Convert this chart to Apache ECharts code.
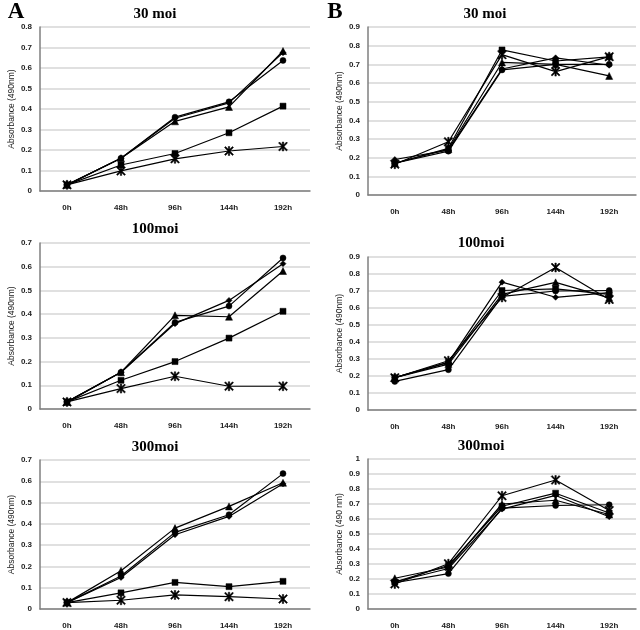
<!DOCTYPE html>
<html>
<head>
<meta charset="utf-8">
<script src="https://cdn.jsdelivr.net/npm/echarts@6/dist/echarts.min.js"></script>
<style>
  html, body { margin: 0; padding: 0; background: #fff; }
  #main { width: 640px; height: 630px; }
</style>
</head>
<body>
<div id="main"></div>
<script>
// time points on the x axis
const hours = ['0h', '48h', '96h', '144h', '192h'];

// marker order for every panel: diamond, circle, triangle, square, asterisk
const a30 = [
  [0.03, 0.16, 0.355, 0.43, 0.675],
  [0.03, 0.16, 0.36, 0.435, 0.637],
  [0.03, 0.16, 0.34, 0.41, 0.683],
  [0.03, 0.127, 0.183, 0.284, 0.414],
  [0.03, 0.098, 0.157, 0.195, 0.217]
];
const a100 = [
  [0.03, 0.155, 0.36, 0.458, 0.613],
  [0.03, 0.155, 0.365, 0.434, 0.637],
  [0.03, 0.155, 0.395, 0.389, 0.582],
  [0.03, 0.121, 0.2, 0.299, 0.412],
  [0.03, 0.086, 0.138, 0.096, 0.096]
];
const a300 = [
  [0.03, 0.148, 0.349, 0.435, 0.588],
  [0.03, 0.155, 0.36, 0.443, 0.636],
  [0.03, 0.18, 0.38, 0.482, 0.593],
  [0.03, 0.076, 0.125, 0.105, 0.13],
  [0.03, 0.041, 0.066, 0.058, 0.047]
];
const b30 = [
  [0.19, 0.24, 0.675, 0.735, 0.695],
  [0.17, 0.235, 0.67, 0.70, 0.70],
  [0.17, 0.245, 0.71, 0.70, 0.638],
  [0.17, 0.25, 0.777, 0.718, 0.74],
  [0.165, 0.285, 0.752, 0.661, 0.741]
];
const b100 = [
  [0.19, 0.28, 0.752, 0.663, 0.69],
  [0.168, 0.237, 0.668, 0.70, 0.703],
  [0.19, 0.27, 0.68, 0.751, 0.66],
  [0.19, 0.28, 0.703, 0.713, 0.68],
  [0.19, 0.29, 0.662, 0.838, 0.65]
];
const b300 = [
  [0.18, 0.27, 0.666, 0.757, 0.615],
  [0.175, 0.236, 0.672, 0.69, 0.695],
  [0.205, 0.28, 0.70, 0.725, 0.63],
  [0.18, 0.29, 0.685, 0.772, 0.64],
  [0.167, 0.302, 0.755, 0.86, 0.657]
];

const titles = ['30 moi', '100moi', '300moi', '30 moi', '100moi', '300moi'];
const yMaxes = [0.8, 0.7, 0.7, 0.9, 0.9, 1];
const yNames = ['Absorbance (490nm)', 'Absorbance (490nm)', 'Absorbance (490nm)',
                'Absorbance (490nm)', 'Absorbance (490nm)', 'Absorbance (490 nm)'];

const asterisk = 'path://M4.2 0L5.8 0L5.8 10L4.2 10Z M0 1.1L1.1 0L10 8.9L8.9 10Z M8.9 0L10 1.1L1.1 10L0 8.9Z';
const symbols = ['diamond', 'circle', 'triangle', 'rect', asterisk];
const symbolSizes = [6, 6, 7, 6, 9];

const panelData = [a30, a100, a300, b30, b100, b300];
const grids = [
  { left: 40, top: 27, width: 270, height: 164 },
  { left: 40, top: 243, width: 270, height: 166 },
  { left: 40, top: 460, width: 270, height: 153 },
  { left: 368, top: 27, width: 268, height: 168 },
  { left: 368, top: 257, width: 268, height: 153 },
  { left: 368, top: 459, width: 268, height: 154 }
];
const titlePos = [[155, 14], [155, 229], [155, 447], [485, 14], [481, 243], [481, 446]];

const axisColor = '#7f7f7f';
const labelFont = { fontSize: 8, fontWeight: 'bold', color: '#222', fontFamily: 'Liberation Sans, Arial, sans-serif' };

const xAxes = [], yAxes = [], series = [], graphics = [];

grids.forEach(function (g, i) {
  xAxes.push({
    gridIndex: i,
    type: 'category',
    data: hours,
    axisTick: { show: false },
    axisLine: { lineStyle: { color: axisColor, width: 1.5 } },
    axisLabel: Object.assign({ margin: 13 }, labelFont)
  });
  yAxes.push({
    gridIndex: i,
    type: 'value',
    min: 0,
    max: yMaxes[i],
    interval: 0.1,
    name: yNames[i],
    nameLocation: 'middle',
    nameGap: 24,
    nameTextStyle: { fontSize: 8.5, color: '#222', fontFamily: 'Liberation Sans, Arial, sans-serif' },
    axisTick: { show: false },
    axisLine: { show: true, lineStyle: { color: axisColor, width: 1.5 } },
    splitLine: { lineStyle: { color: '#d6d6d6', width: 1.5 } },
    axisLabel: Object.assign({ margin: 8 }, labelFont)
  });
  panelData[i].forEach(function (vals, k) {
    series.push({
      type: 'line',
      xAxisIndex: i,
      yAxisIndex: i,
      data: vals,
      symbol: symbols[k],
      symbolSize: symbolSizes[k],
      showAllSymbol: true,
      lineStyle: { color: '#000', width: 1.2 },
      itemStyle: { color: '#000', borderColor: '#000', borderWidth: 0.5 },
      animation: false
    });
  });
  graphics.push({
    type: 'text',
    x: titlePos[i][0],
    y: titlePos[i][1],
    style: {
      text: titles[i],
      font: 'bold 15px "Liberation Serif", "Times New Roman", serif',
      fill: '#000',
      textAlign: 'center',
      textVerticalAlign: 'middle'
    }
  });
});

graphics.push({
  type: 'text', x: 16, y: 12,
  style: { text: 'A', font: 'bold 23px "Liberation Serif", serif', fill: '#000', textAlign: 'center', textVerticalAlign: 'middle' }
});
graphics.push({
  type: 'text', x: 335, y: 12,
  style: { text: 'B', font: 'bold 23px "Liberation Serif", serif', fill: '#000', textAlign: 'center', textVerticalAlign: 'middle' }
});

const chart = echarts.init(document.getElementById('main'));
chart.setOption({
  animation: false,
  backgroundColor: '#fff',
  grid: grids,
  xAxis: xAxes,
  yAxis: yAxes,
  series: series,
  graphic: graphics
});
</script>
</body>
</html>
